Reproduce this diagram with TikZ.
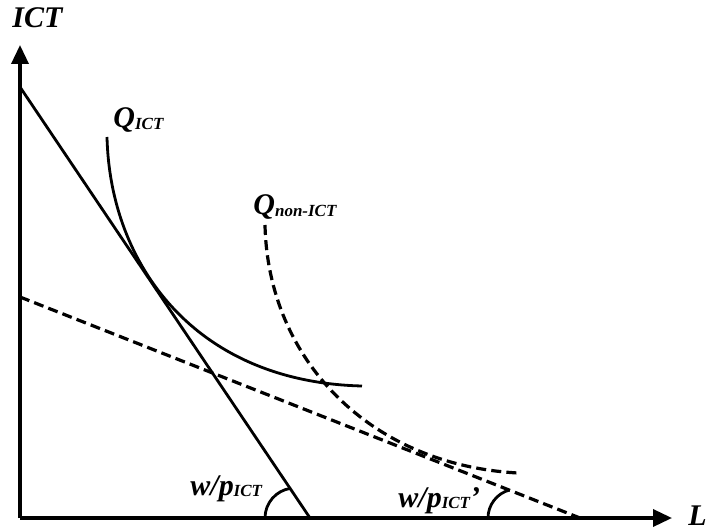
\documentclass[tikz,border=0pt]{standalone}
\usepackage{fontspec}
\setmainfont{Liberation Serif}
\usepackage{tikz}
\usetikzlibrary{arrows.meta}
\newcommand{\subICT}{\raisebox{-0.6pt}{\fontsize{8.5}{10}\selectfont ICT}}

\begin{document}
\begin{tikzpicture}[x=0.5pt,y=0.5pt,
  ax/.style={line width=1.75pt,-{Triangle[length=9.5pt,width=8.5pt]}},
  budget/.style={line width=1.4pt},
  iso/.style={line width=1.4pt},
  dsh/.style={line width=1.6pt,dash pattern=on 5pt off 2.6pt},
  lbl/.style={anchor=base west,inner sep=0pt,font=\fontsize{15}{18}\selectfont\bfseries\itshape}
]
  \useasboundingbox (0,0) rectangle (711,530);
  % axes
  \coordinate (O) at (20,12);
  \coordinate (ytip) at (20,485);
  \coordinate (xtip) at (672,12);
  \draw[ax] (O) -- (ytip);
  \draw[ax] (O) -- (xtip);
  \node[lbl] (ylab) at (12,502) {ICT};
  \node[lbl] (xlab) at (688,5) {L};
  % budget lines
  \coordinate (bA) at (20,443);
  \coordinate (bB) at (310,12);
  \coordinate (cA) at (20,233);
  \coordinate (cB) at (580,12);
  \draw[budget] (bA) -- (bB);
  \draw[dsh] (cA) -- (cB);
  % isoquants
  \coordinate (q1s) at (107,393);
  \coordinate (q1e) at (362,144);
  \draw[iso] (q1s) .. controls (110,265) and (195,148) .. (q1e);
  \coordinate (q2s) at (265,305);
  \coordinate (q2e) at (518,57);
  \draw[dsh] (q2s) .. controls (268,170) and (370,65) .. (q2e);
  \node[lbl] (qict) at (113,402) {Q\subICT};
  \node[lbl] (qnon) at (253,315) {Q\raisebox{-0.6pt}{\fontsize{8.5}{10}\selectfont non-ICT}};
  % slopes
  \coordinate (arc1) at (265,12);
  \coordinate (arc2) at (488,12);
  \draw[iso] (arc1) arc[start angle=180,end angle=98,radius=30];
  \draw[iso] (arc2) arc[start angle=180,end angle=105,radius=29];
  \node[lbl] (slope1) at (190,35) {w/p\subICT};
  \node[lbl] (slope2) at (398,23) {w/p\subICT'};
\end{tikzpicture}
\end{document}
